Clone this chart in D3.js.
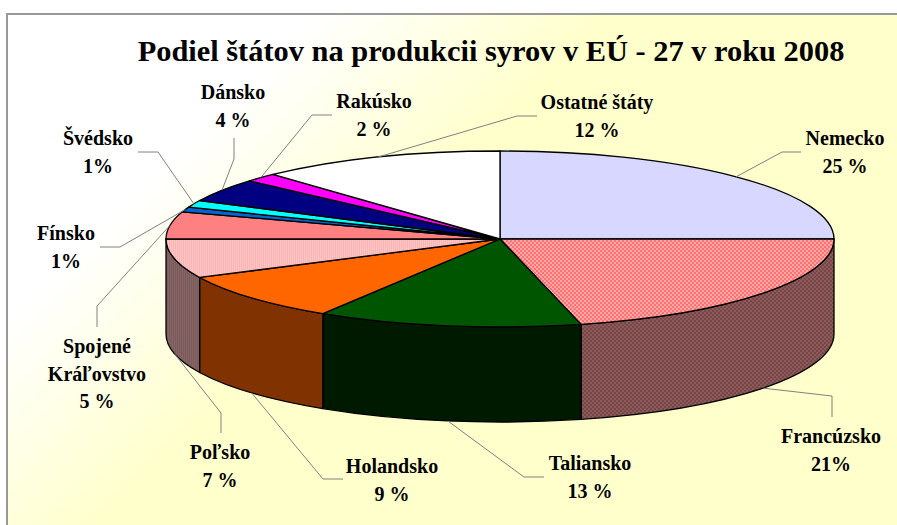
<!DOCTYPE html>
<html>
<head>
<meta charset="utf-8">
<style>
  html, body { margin: 0; padding: 0; background: #fff; overflow: hidden; }
  text { font-family: "Liberation Serif", serif; font-weight: bold; fill: #000; }
</style>
<script src="https://cdn.jsdelivr.net/npm/d3@7"></script>
</head>
<body>
<div id="chart"></div>
<script>
// Data (slice sizes estimated from the drawn angles)
const countries = ['Nemecko', 'Francúzsko', 'Taliansko', 'Holandsko', 'Poľsko', 'Spojené Kráľovstvo',
  'Fínsko', 'Švédsko', 'Dánsko', 'Rakúsko', 'Ostatné štáty'];
const shares = [25, 21.1, 12.8, 8.9, 7.2, 5, 0.9, 1.3, 4.3, 1.6, 11.9];
const shareLabels = ['25 %', '21%', '13 %', '9 %', '7 %', '5 %', '1%', '1%', '4 %', '2 %', '12 %'];
const title = 'Podiel štátov na produkcii syrov v EÚ - 27 v roku 2008';

// Slice colours, top face and side wall
const topFills = ['#d7d7ff', 'url(#hatchPink)', '#005500', '#ff6600', 'url(#stripePink)', '#ff8080',
  '#0066cc', '#00ffff', '#000080', '#ff00ff', '#ffffff'];
const sideFills = ['#6b6b80', 'url(#hatchBrown)', '#001a00', '#803300', 'url(#stripeBrown)', '#804040',
  '#003366', '#008080', '#000040', '#800080', '#808080'];

// Label layout: label centre, first baseline, leader elbow and leader end
const labelLines = [['Nemecko'], ['Francúzsko'], ['Taliansko'], ['Holandsko'], ['Poľsko'], ['Spojené', 'Kráľovstvo'],
  ['Fínsko'], ['Švédsko'], ['Dánsko'], ['Rakúsko'], ['Ostatné štáty']];
const labelPos = [[845, 145], [831, 443], [590, 470], [392, 473], [220, 459], [97, 353],
  [66, 240], [98, 145], [233, 99], [374, 108], [597, 109]];
const elbows = [[782, 152], [832, 396], [524, 477], [323, 479], [221, 413], [97, 306],
  [120, 247], [158, 152], [234, 159], [312, 115], [517, 116]];
const leaderEnds = [[801, 152], [832, 417], [544, 477], [343, 479], [221, 433], [97, 327],
  [100, 247], [138, 152], [234, 138], [332, 115], [537, 116]];

const width = 897;
const height = 525;
const cx = 500, cy = 239, rx = 334, ry = 88, depth = 95;

const svg = d3.select('#chart')
  .append('svg')
  .attr('width', width)
  .attr('height', height)
  .style('display', 'block');

const defs = svg.append('defs');

// Background gradient
const grad = defs.append('linearGradient')
  .attr('id', 'bg')
  .attr('gradientUnits', 'userSpaceOnUse')
  .attr('x1', 165).attr('y1', 165)
  .attr('x2', 310).attr('y2', 310);
grad.append('stop').attr('offset', 0).attr('stop-color', '#ffffff');
grad.append('stop').attr('offset', 1).attr('stop-color', '#ffffcc');

// Fine hatch patterns
function checker(id, a, b) {
  const p = defs.append('pattern')
    .attr('id', id)
    .attr('patternUnits', 'userSpaceOnUse')
    .attr('width', 4).attr('height', 4);
  p.append('rect').attr('width', 4).attr('height', 4).attr('fill', a);
  [[0, 0], [2, 2]].forEach(([x, y]) => {
    p.append('rect').attr('x', x).attr('y', y).attr('width', 2).attr('height', 2).attr('fill', b);
  });
}
function stripes(id, a, b) {
  const p = defs.append('pattern')
    .attr('id', id)
    .attr('patternUnits', 'userSpaceOnUse')
    .attr('width', 2).attr('height', 2);
  p.append('rect').attr('width', 2).attr('height', 2).attr('fill', a);
  p.append('rect').attr('width', 1).attr('height', 2).attr('fill', b);
}
checker('hatchPink', '#ff7070', '#ffa8a8');
checker('hatchBrown', '#7c4444', '#865c5c');
stripes('stripePink', '#ffb4b4', '#ffc6c6');
stripes('stripeBrown', '#805a5a', '#806666');

// Panel and frame
svg.append('rect')
  .attr('x', 7).attr('y', 14)
  .attr('width', width).attr('height', height)
  .attr('fill', 'url(#bg)')
  .attr('stroke', '#999')
  .attr('stroke-width', 2);

// Pie angles, clockwise from the top
const pie = d3.pie().sort(null).value((d) => d);
const arcs = pie(shares);

const px = (a) => cx + rx * Math.sin(a);
const py = (a) => cy - ry * Math.cos(a);

const g = svg.append('g');

// Side walls, only the front half of the pie shows
arcs.forEach((d, i) => {
  const a0 = Math.max(d.startAngle, Math.PI / 2);
  const a1 = Math.min(d.endAngle, Math.PI * 1.5);
  if (a1 <= a0) return;
  g.append('path')
    .attr('d', `M${px(a0)},${py(a0)}A${rx},${ry} 0 0 1 ${px(a1)},${py(a1)}` +
      `L${px(a1)},${py(a1) + depth}A${rx},${ry} 0 0 0 ${px(a0)},${py(a0) + depth}Z`)
    .attr('fill', sideFills[i])
    .attr('stroke', '#000')
    .attr('stroke-width', 1.3)
    .attr('stroke-linejoin', 'round');
});

// Top faces
arcs.forEach((d, i) => {
  const large = d.endAngle - d.startAngle > Math.PI ? 1 : 0;
  g.append('path')
    .attr('d', `M${cx},${cy}L${px(d.startAngle)},${py(d.startAngle)}` +
      `A${rx},${ry} 0 ${large} 1 ${px(d.endAngle)},${py(d.endAngle)}Z`)
    .attr('fill', topFills[i])
    .attr('stroke', '#000')
    .attr('stroke-width', 1.3)
    .attr('stroke-linejoin', 'round');
});

// Leader lines, they start at the middle of each slice's rim
const line = d3.line();
arcs.forEach((d, i) => {
  const mid = (d.startAngle + d.endAngle) / 2;
  const front = mid > Math.PI / 2 && mid < Math.PI * 1.5;
  const start = [px(mid), py(mid) + (front ? depth : 0)];
  svg.append('path')
    .attr('d', line([start, elbows[i], leaderEnds[i]]))
    .attr('fill', 'none')
    .attr('stroke', '#808080')
    .attr('stroke-width', 1);
});

// Labels
const lineHeight = 27.5;
countries.forEach((name, i) => {
  const [x, y] = labelPos[i];
  const rows = labelLines[i].concat(shareLabels[i]);
  rows.forEach((row, j) => {
    svg.append('text')
      .attr('x', x)
      .attr('y', y + j * lineHeight)
      .attr('text-anchor', 'middle')
      .style('font-size', '20px')
      .text(row);
  });
});

// Chart title
svg.append('text')
  .attr('x', 491)
  .attr('y', 61)
  .attr('text-anchor', 'middle')
  .style('font-size', '30.4px')
  .text(title);
</script>
</body>
</html>
